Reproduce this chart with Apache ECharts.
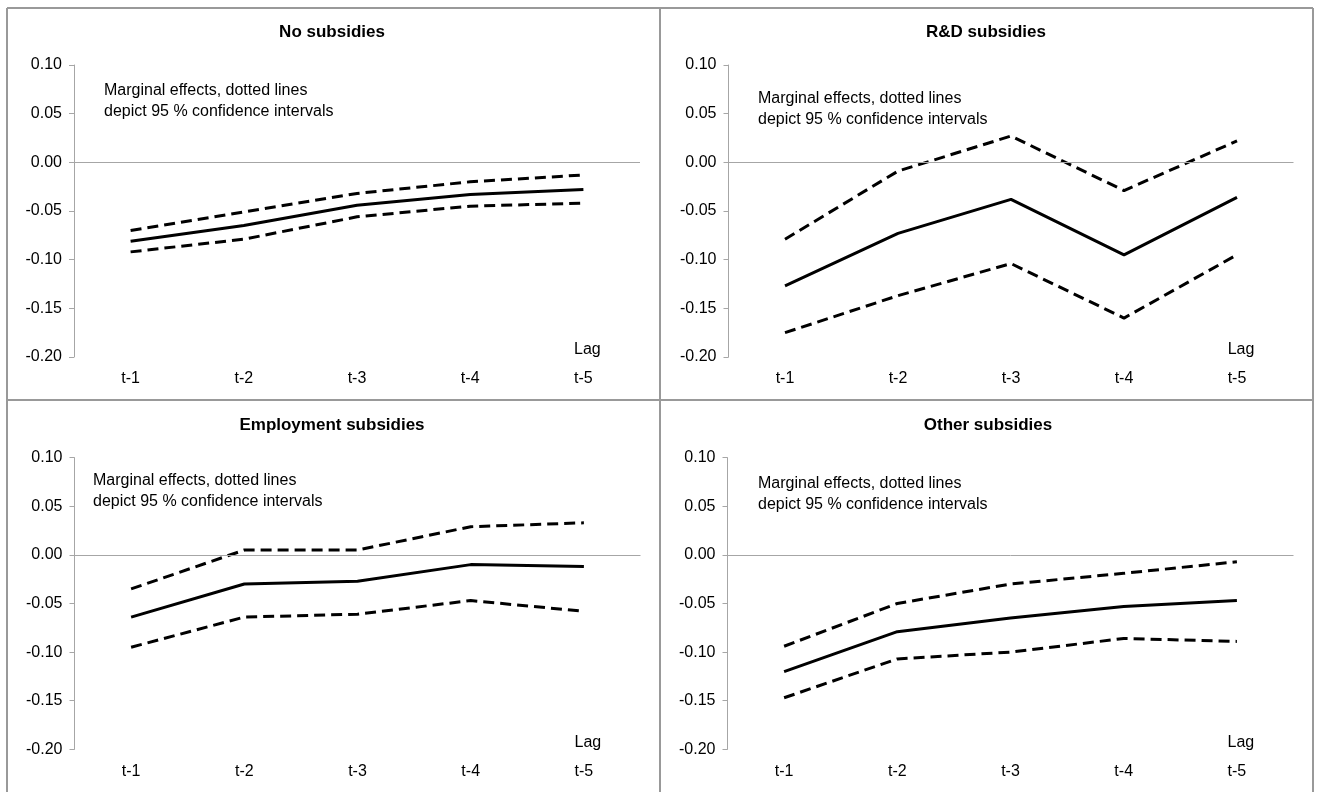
<!DOCTYPE html>
<html>
<head>
<meta charset="utf-8">
<script src="https://cdn.jsdelivr.net/npm/echarts@6/dist/echarts.min.js"></script>
<style>
html,body{margin:0;padding:0;background:#fff;}
#chart{width:1320px;height:792px;}
</style>
</head>
<body>
<div id="chart"></div>
<script>
// ---- data ----
const categories = ['t-1', 't-2', 't-3', 't-4', 't-5'];
const yTicks = [-0.20, -0.15, -0.10, -0.05, 0.00, 0.05, 0.10];
const panelTitles = ['No subsidies', 'R&D subsidies', 'Employment subsidies', 'Other subsidies'];
const noteText = ['Marginal effects, dotted lines', 'depict 95 % confidence intervals'];
const lagLabel = 'Lag';

const noSubEst   = [-0.081, -0.065, -0.044, -0.033, -0.028];
const noSubUpper = [-0.070, -0.051, -0.032, -0.020, -0.013];
const noSubLower = [-0.092, -0.079, -0.056, -0.045, -0.042];

const rdEst   = [-0.127, -0.073, -0.038, -0.095, -0.036];
const rdUpper = [-0.079, -0.009,  0.027, -0.029,  0.022];
const rdLower = [-0.175, -0.137, -0.104, -0.160, -0.095];

const empEst   = [-0.064, -0.030, -0.027, -0.010, -0.012];
const empUpper = [-0.035,  0.005,  0.005,  0.029,  0.033];
const empLower = [-0.095, -0.064, -0.061, -0.047, -0.058];

const othEst   = [-0.120, -0.079, -0.065, -0.053, -0.047];
const othUpper = [-0.094, -0.050, -0.030, -0.019, -0.007];
const othLower = [-0.147, -0.107, -0.100, -0.086, -0.089];

const panelData = [
  [noSubEst, noSubUpper, noSubLower],
  [rdEst, rdUpper, rdLower],
  [empEst, empUpper, empLower],
  [othEst, othUpper, othLower]
];

// ---- layout ----
const FONT = '"Liberation Sans", Arial, sans-serif';
const grids = [
  {left: 74,    top: 65,    width: 566, height: 292},
  {left: 728.5, top: 65,    width: 565, height: 292},
  {left: 74.5,  top: 457.7, width: 566, height: 291.6},
  {left: 727.5, top: 457.7, width: 566, height: 291.6}
];
const titlePos = [[332, 24], [986, 24], [332, 417], [988, 417]];
const notePos = [[104, 80], [758, 88], [93, 470], [758, 473]];

const option = {
  animation: false,
  backgroundColor: '#ffffff',
  title: panelTitles.map((t, i) => ({
    text: t,
    left: titlePos[i][0],
    top: titlePos[i][1],
    textAlign: 'center',
    padding: 0,
    textStyle: {fontFamily: FONT, fontSize: 17, fontWeight: 'bold', color: '#000'}
  })),
  grid: grids.map(g => Object.assign({containLabel: false}, g)),
  xAxis: grids.map((g, i) => ({
    type: 'category',
    gridIndex: i,
    data: categories,
    boundaryGap: true,
    axisLine: {show: false, onZero: false},
    axisTick: {show: false},
    splitLine: {show: false},
    axisLabel: {fontFamily: FONT, fontSize: 16, color: '#000', margin: 14}
  })),
  yAxis: grids.map((g, i) => ({
    type: 'value',
    gridIndex: i,
    min: -0.2,
    max: 0.1,
    interval: 0.05,
    axisLine: {show: true, lineStyle: {color: '#a6a6a6', width: 1}},
    axisTick: {show: true, length: 5, lineStyle: {color: '#a6a6a6'}},
    splitLine: {show: false},
    axisLabel: {
      fontFamily: FONT, fontSize: 16, color: '#000', margin: 12,
      formatter: v => v.toFixed(2)
    }
  })),
  series: [],
  graphic: []
};

panelData.forEach((arr, i) => {
  const [est, up, lo] = arr;
  option.series.push({
    type: 'line', xAxisIndex: i, yAxisIndex: i, data: est,
    symbol: 'none', lineStyle: {color: '#000', width: 3, type: 'solid'},
    z: 3,
    markLine: {
      silent: true, symbol: 'none', label: {show: false},
      lineStyle: {color: '#a6a6a6', width: 1, type: 'solid'},
      data: [{yAxis: 0}]
    }
  });
  [up, lo].forEach(d => option.series.push({
    type: 'line', xAxisIndex: i, yAxisIndex: i, data: d,
    symbol: 'none', z: 3,
    lineStyle: {color: '#000', width: 3, type: [11, 6]}
  }));
});

// notes and lag labels
grids.forEach((g, i) => {
  option.graphic.push({
    type: 'text', left: notePos[i][0], top: notePos[i][1], silent: true,
    style: {
      text: noteText.join('\n'), fill: '#000',
      font: '16px ' + FONT, lineHeight: 21
    }
  });
  const t5x = g.left + g.width * 0.9;
  option.graphic.push({
    type: 'text', silent: true,
    x: t5x + 4, y: g.top + g.height - 7,
    style: {text: lagLabel, fill: '#000', font: '16px ' + FONT, align: 'center', verticalAlign: 'middle'}
  });
});

// panel borders
const borderStyle = {stroke: '#999999', lineWidth: 2};
[
  [7, 8, 1313, 8],
  [7, 8, 7, 792],
  [1313, 8, 1313, 792],
  [660, 8, 660, 792],
  [7, 400, 1313, 400]
].forEach(s => option.graphic.push({
  type: 'line', silent: true,
  shape: {x1: s[0], y1: s[1], x2: s[2], y2: s[3]},
  style: borderStyle
}));

const chart = echarts.init(document.getElementById('chart'), null, {renderer: 'canvas'});
chart.setOption(option);
</script>
</body>
</html>
